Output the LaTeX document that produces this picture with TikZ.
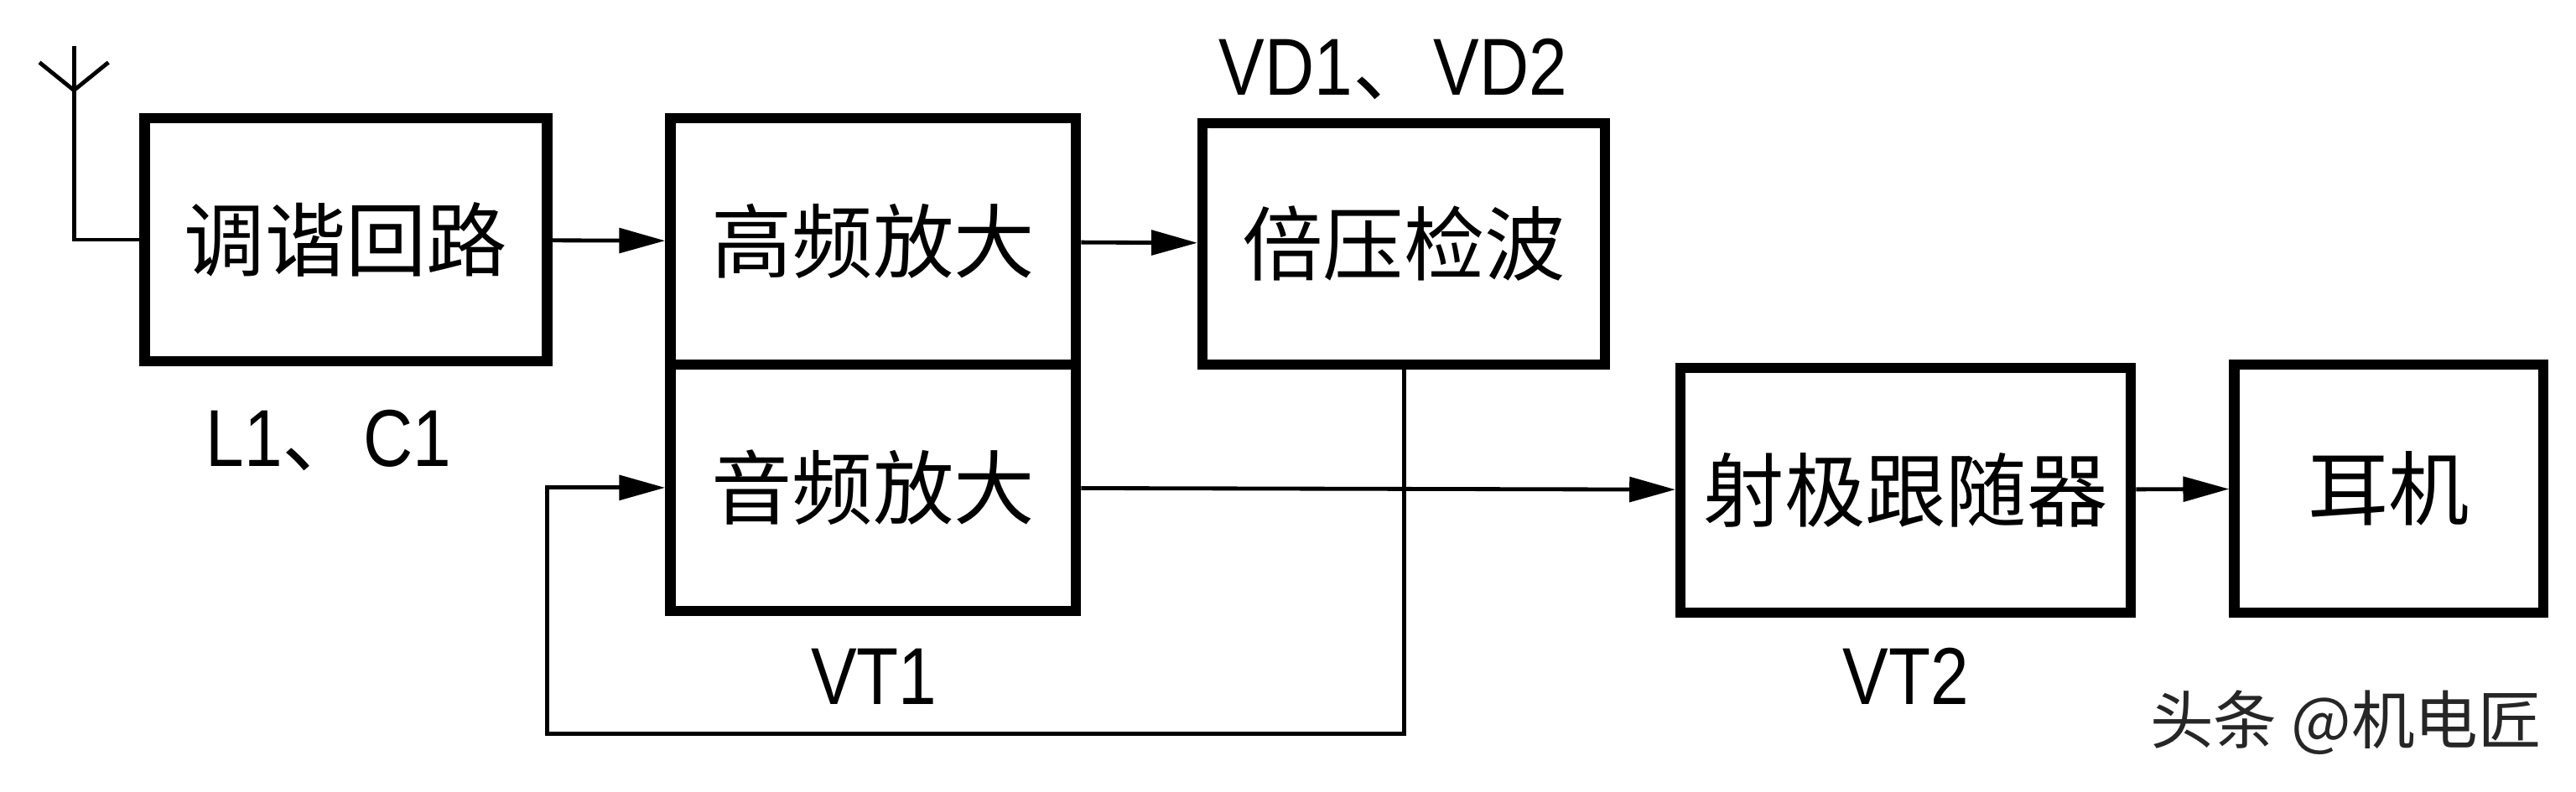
\documentclass[tikz,border=0pt]{standalone}
\usepackage{fontspec}
\setmainfont{Liberation Sans}
\newfontfamily\cjk{Noto Sans CJK SC}
\newfontfamily\lab[FakeStretch=0.85]{Liberation Sans}
\usetikzlibrary{arrows.meta}

\begin{document}
\begin{tikzpicture}[
  blk/.style={draw,line width=1.8pt,inner sep=0pt,font=\cjk\fontsize{14}{16}\selectfont},
  lbl/.style={font=\lab\fontsize{14}{16}\selectfont},
  wire/.style={line width=0.7pt},
  >={Triangle[length=2.8mm,width=1.5mm]}
]
\useasboundingbox (0,0) rectangle (15.68,4.82);
\node[blk,minimum width=2.45cm,minimum height=1.48cm] (tune) at (2.105,3.36) {调谐回路};
\node[blk,minimum width=2.47cm,minimum height=1.50cm] (hf) at (5.315,3.35) {高频放大};
\node[blk,minimum width=2.47cm,minimum height=1.50cm] (af) at (5.315,1.85) {音频放大};
\node[blk,minimum width=2.45cm,minimum height=1.47cm] (det) at (8.545,3.335) {倍压检波};
\node[blk,minimum width=2.74cm,minimum height=1.49cm] (ef) at (11.60,1.835) {射极跟随器};
\node[blk,minimum width=1.88cm,minimum height=1.51cm] (ear) at (14.54,1.845) {耳机};
\node[lbl] (lc) at (2.00,2.14) {L1{\cjk 、}C1};
\node[lbl] (vd) at (8.48,4.40) {VD1{\cjk 、}VD2};
\node[lbl] (vt1) at (5.32,0.70) {VT1};
\node[lbl] (vt2) at (11.60,0.70) {VT2};
\node[font=\cjk\fontsize{11}{13}\selectfont,text=black!85] (wm) at (14.28,0.42) {头条 @机电匠};
\coordinate (ant) at (0.45,4.54);
\coordinate (antV) at (0.45,4.27);
\coordinate (antL) at (0.24,4.44);
\coordinate (antR) at (0.66,4.44);
\draw[wire] (antL) -- (antV) -- (antR);
\draw[wire] (ant) -- (antV) |- (tune.west);
\draw[wire,->] (tune) -- (hf);
\draw[wire,->] (hf) -- (det);
\draw[wire,->] (af) -- (ef);
\draw[wire,->] (ef) -- (ear);
\coordinate (fbR) at (det.south |- 0,0.35);
\coordinate (fbL) at (3.33,0.35);
\draw[wire,->] (det.south) -- (fbR) -- (fbL) |- (af.west);
\end{tikzpicture}
\end{document}
